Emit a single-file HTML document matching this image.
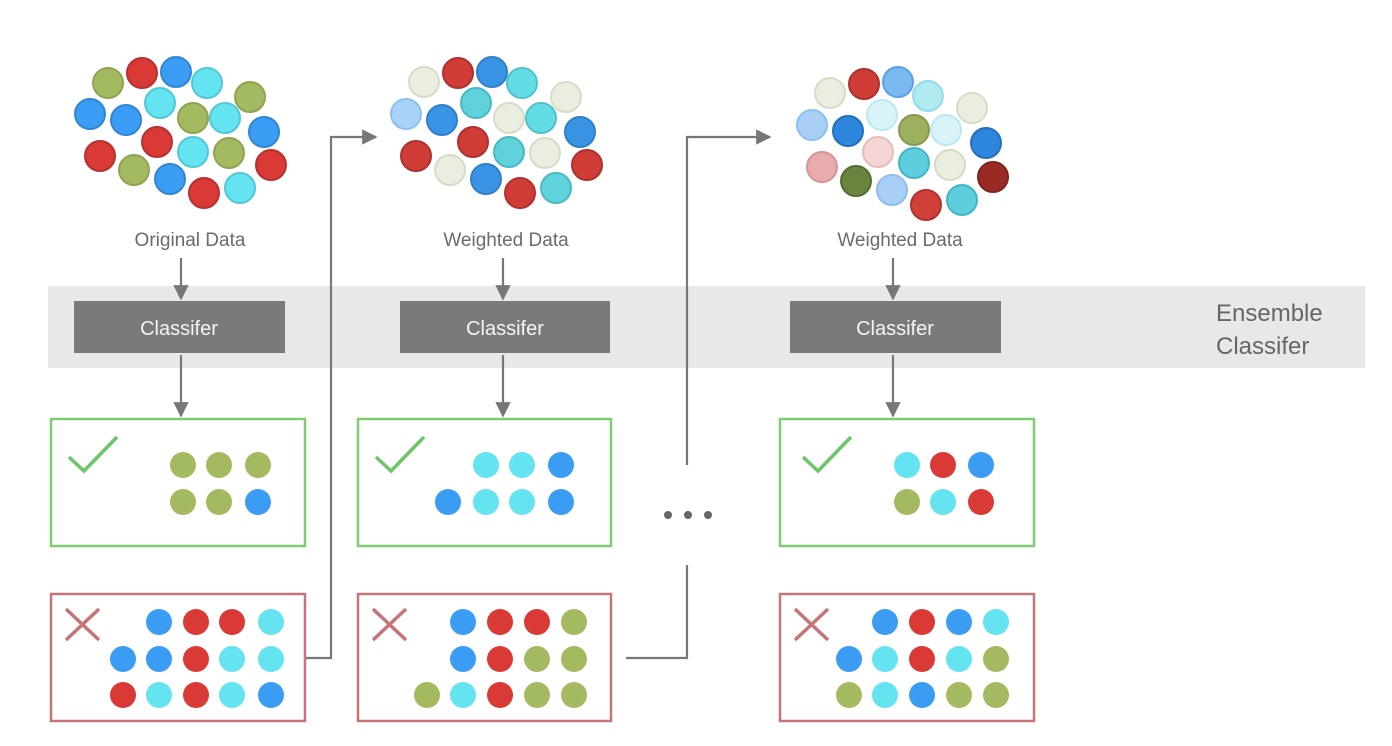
<!DOCTYPE html>
<html><head><meta charset="utf-8"><style>
body{margin:0;background:#fff;}
svg{display:block;font-family:"Liberation Sans","DejaVu Sans",sans-serif;}
</style></head><body>
<svg width="1392" height="746" viewBox="0 0 1392 746" xmlns="http://www.w3.org/2000/svg">
<defs>
<marker id="ah" viewBox="0 0 10 10" refX="9" refY="5" markerWidth="7" markerHeight="7" orient="auto"><path d="M0,0 L10,5 L0,10 z" fill="#777"/></marker>
</defs>
<rect x="48" y="286" width="1317" height="82" fill="#e8e8e8"/>
<g fill="#7a7a7a">
<rect x="74" y="301" width="211" height="52"/>
<rect x="400" y="301" width="210" height="52"/>
<rect x="790" y="301" width="211" height="52"/>
</g>
<g fill="#f4f4f4" font-size="20" text-anchor="middle">
<text x="179" y="335">Classifer</text>
<text x="505" y="335">Classifer</text>
<text x="895" y="335">Classifer</text>
</g>
<g fill="#666" font-size="24"><text x="1216" y="321">Ensemble</text><text x="1216" y="354">Classifer</text></g>
<g fill="#6b6b6b" font-size="19" text-anchor="middle">
<text x="190" y="246">Original Data</text>
<text x="506" y="246">Weighted Data</text>
<text x="900" y="246">Weighted Data</text>
</g>
<g stroke="#777" stroke-width="2.2" fill="none" marker-end="url(#ah)">
<line x1="181" y1="258" x2="181" y2="299"/>
<line x1="181" y1="355" x2="181" y2="416"/>
<line x1="503" y1="258" x2="503" y2="299"/>
<line x1="503" y1="355" x2="503" y2="416"/>
<line x1="893" y1="258" x2="893" y2="299"/>
<line x1="893" y1="355" x2="893" y2="416"/>
<polyline points="306,658 331,658 331,137 376,137"/>
<polyline points="687,465 687,137 770,137"/>
</g>
<polyline points="626,658 687,658 687,565" stroke="#777" stroke-width="2.2" fill="none"/>
<g fill="#666"><circle cx="668" cy="515" r="4"/><circle cx="688" cy="515" r="4"/><circle cx="708" cy="515" r="4"/></g>
<g fill="none" stroke-width="2.5">
<rect x="51" y="419" width="254" height="127" stroke="#7fcc72"/>
<rect x="358" y="419" width="253" height="127" stroke="#7fcc72"/>
<rect x="780" y="419" width="254" height="127" stroke="#7fcc72"/>
<rect x="51" y="594" width="254" height="127" stroke="#c77478"/>
<rect x="358" y="594" width="253" height="127" stroke="#c77478"/>
<rect x="780" y="594" width="254" height="127" stroke="#c77478"/>
</g>
<g fill="none" stroke="#6cc66a" stroke-width="3.5">
<polyline points="69,457 84,471 117,437"/>
<polyline points="376,457 391,471 424,437"/>
<polyline points="803,457 818,471 851,437"/>
</g>
<g stroke="#c77478" stroke-width="3.5">
<path d="M66,609 L99,640 M99,609 L66,640"/>
<path d="M373,609 L406,640 M406,609 L373,640"/>
<path d="M795,609 L828,640 M828,609 L795,640"/>
</g>
<g>
<g fill="#a4ba60"><circle cx="183" cy="465" r="13"/><circle cx="219" cy="465" r="13"/><circle cx="258" cy="465" r="13"/><circle cx="183" cy="502" r="13"/><circle cx="219" cy="502" r="13"/></g>
<g fill="#3a9cf2"><circle cx="258" cy="502" r="13"/><circle cx="159" cy="622" r="13"/><circle cx="123" cy="659" r="13"/><circle cx="159" cy="659" r="13"/><circle cx="271" cy="695" r="13"/></g>
<g fill="#d93a35"><circle cx="196" cy="622" r="13"/><circle cx="232" cy="622" r="13"/><circle cx="196" cy="659" r="13"/><circle cx="123" cy="695" r="13"/><circle cx="196" cy="695" r="13"/></g>
<g fill="#64e3f0"><circle cx="271" cy="622" r="13"/><circle cx="232" cy="659" r="13"/><circle cx="271" cy="659" r="13"/><circle cx="159" cy="695" r="13"/><circle cx="232" cy="695" r="13"/></g>
<g fill="#64e3f0"><circle cx="486" cy="465" r="13"/><circle cx="522" cy="465" r="13"/><circle cx="486" cy="502" r="13"/><circle cx="522" cy="502" r="13"/><circle cx="463" cy="695" r="13"/></g>
<g fill="#3a9cf2"><circle cx="561" cy="465" r="13"/><circle cx="448" cy="502" r="13"/><circle cx="561" cy="502" r="13"/><circle cx="463" cy="622" r="13"/><circle cx="463" cy="659" r="13"/></g>
<g fill="#d93a35"><circle cx="500" cy="622" r="13"/><circle cx="537" cy="622" r="13"/><circle cx="500" cy="659" r="13"/><circle cx="500" cy="695" r="13"/></g>
<g fill="#a4ba60"><circle cx="574" cy="622" r="13"/><circle cx="537" cy="659" r="13"/><circle cx="574" cy="659" r="13"/><circle cx="427" cy="695" r="13"/><circle cx="537" cy="695" r="13"/><circle cx="574" cy="695" r="13"/></g>
<g fill="#64e3f0"><circle cx="907" cy="465" r="13"/><circle cx="943" cy="502" r="13"/><circle cx="996" cy="622" r="13"/><circle cx="885" cy="659" r="13"/><circle cx="959" cy="659" r="13"/><circle cx="885" cy="695" r="13"/></g>
<g fill="#d93a35"><circle cx="943" cy="465" r="13"/><circle cx="981" cy="502" r="13"/><circle cx="922" cy="622" r="13"/><circle cx="922" cy="659" r="13"/></g>
<g fill="#3a9cf2"><circle cx="981" cy="465" r="13"/><circle cx="885" cy="622" r="13"/><circle cx="959" cy="622" r="13"/><circle cx="849" cy="659" r="13"/><circle cx="922" cy="695" r="13"/></g>
<g fill="#a4ba60"><circle cx="907" cy="502" r="13"/><circle cx="996" cy="659" r="13"/><circle cx="849" cy="695" r="13"/><circle cx="959" cy="695" r="13"/><circle cx="996" cy="695" r="13"/></g>
</g>
<g stroke-width="2">
<circle cx="108" cy="83" r="15" fill="#a4ba60" stroke="#8fa450"/>
<circle cx="142" cy="73" r="15" fill="#d93a35" stroke="#b93030"/>
<circle cx="176" cy="72" r="15" fill="#3a9cf2" stroke="#2f86d4"/>
<circle cx="207" cy="83" r="15" fill="#64e3f0" stroke="#52c8d4"/>
<circle cx="250" cy="97" r="15" fill="#a4ba60" stroke="#8fa450"/>
<circle cx="90" cy="114" r="15" fill="#3a9cf2" stroke="#2f86d4"/>
<circle cx="126" cy="120" r="15" fill="#3a9cf2" stroke="#2f86d4"/>
<circle cx="160" cy="103" r="15" fill="#64e3f0" stroke="#52c8d4"/>
<circle cx="193" cy="118" r="15" fill="#a4ba60" stroke="#8fa450"/>
<circle cx="225" cy="118" r="15" fill="#64e3f0" stroke="#52c8d4"/>
<circle cx="264" cy="132" r="15" fill="#3a9cf2" stroke="#2f86d4"/>
<circle cx="157" cy="142" r="15" fill="#d93a35" stroke="#b93030"/>
<circle cx="100" cy="156" r="15" fill="#d93a35" stroke="#b93030"/>
<circle cx="193" cy="152" r="15" fill="#64e3f0" stroke="#52c8d4"/>
<circle cx="229" cy="153" r="15" fill="#a4ba60" stroke="#8fa450"/>
<circle cx="134" cy="170" r="15" fill="#a4ba60" stroke="#8fa450"/>
<circle cx="170" cy="179" r="15" fill="#3a9cf2" stroke="#2f86d4"/>
<circle cx="204" cy="193" r="15" fill="#d93a35" stroke="#b93030"/>
<circle cx="240" cy="188" r="15" fill="#64e3f0" stroke="#52c8d4"/>
<circle cx="271" cy="165" r="15" fill="#d93a35" stroke="#b93030"/>
</g>
<g stroke-width="2">
<circle cx="424" cy="82" r="15" fill="#eaeee0" stroke="#d6dcc4"/>
<circle cx="458" cy="73" r="15" fill="#d03c36" stroke="#b03030"/>
<circle cx="492" cy="72" r="15" fill="#3a94e6" stroke="#2f80c8"/>
<circle cx="522" cy="83" r="15" fill="#62dde6" stroke="#50c2cc"/>
<circle cx="566" cy="97" r="15" fill="#eaeee0" stroke="#d6dcc4"/>
<circle cx="406" cy="114" r="15" fill="#a8d2f8" stroke="#8cc0f0"/>
<circle cx="442" cy="120" r="15" fill="#3a94e6" stroke="#2f80c8"/>
<circle cx="476" cy="103" r="15" fill="#5fd3dc" stroke="#4ab8c2"/>
<circle cx="509" cy="118" r="15" fill="#eaeee0" stroke="#d6dcc4"/>
<circle cx="541" cy="118" r="15" fill="#62dde6" stroke="#50c2cc"/>
<circle cx="580" cy="132" r="15" fill="#3a94e6" stroke="#2f80c8"/>
<circle cx="473" cy="142" r="15" fill="#d03c36" stroke="#b03030"/>
<circle cx="416" cy="156" r="15" fill="#d03c36" stroke="#b03030"/>
<circle cx="509" cy="152" r="15" fill="#5fd3dc" stroke="#4ab8c2"/>
<circle cx="545" cy="153" r="15" fill="#eaeee0" stroke="#d6dcc4"/>
<circle cx="450" cy="170" r="15" fill="#eaeee0" stroke="#d6dcc4"/>
<circle cx="486" cy="179" r="15" fill="#3a94e6" stroke="#2f80c8"/>
<circle cx="520" cy="193" r="15" fill="#d03c36" stroke="#b03030"/>
<circle cx="556" cy="188" r="15" fill="#5fd3dc" stroke="#4ab8c2"/>
<circle cx="587" cy="165" r="15" fill="#d03c36" stroke="#b03030"/>
</g>
<g stroke-width="2">
<circle cx="830" cy="93" r="15" fill="#eaeee0" stroke="#d6dcc4"/>
<circle cx="864" cy="84" r="15" fill="#d03c36" stroke="#b03030"/>
<circle cx="898" cy="82" r="15" fill="#7ab8f0" stroke="#5aa2e8"/>
<circle cx="928" cy="96" r="15" fill="#aeeaf0" stroke="#96dce6"/>
<circle cx="972" cy="108" r="15" fill="#eaeee0" stroke="#d6dcc4"/>
<circle cx="812" cy="125" r="15" fill="#a8d0f6" stroke="#8cbff0"/>
<circle cx="848" cy="131" r="15" fill="#2e86dc" stroke="#2470bc"/>
<circle cx="882" cy="115" r="15" fill="#d8f4f8" stroke="#bee8f0"/>
<circle cx="914" cy="130" r="15" fill="#9cb060" stroke="#86994e"/>
<circle cx="946" cy="130" r="15" fill="#d8f4f8" stroke="#bee8f0"/>
<circle cx="986" cy="143" r="15" fill="#2e86dc" stroke="#2470bc"/>
<circle cx="878" cy="152" r="15" fill="#f4d6d6" stroke="#e8baba"/>
<circle cx="822" cy="167" r="15" fill="#e8acac" stroke="#d89494"/>
<circle cx="914" cy="163" r="15" fill="#5ccede" stroke="#46b4c4"/>
<circle cx="950" cy="165" r="15" fill="#eaeee0" stroke="#d6dcc4"/>
<circle cx="856" cy="181" r="15" fill="#6a8440" stroke="#556c32"/>
<circle cx="892" cy="190" r="15" fill="#a8d0f6" stroke="#8cbff0"/>
<circle cx="926" cy="205" r="15" fill="#cf4038" stroke="#b0322c"/>
<circle cx="962" cy="200" r="15" fill="#5ccede" stroke="#46b4c4"/>
<circle cx="993" cy="177" r="15" fill="#9a2a24" stroke="#80221e"/>
</g>
</svg>
</body></html>
